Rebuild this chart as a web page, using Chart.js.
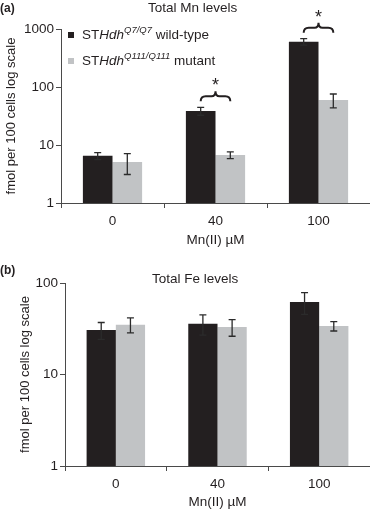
<!DOCTYPE html>
<html>
<head>
<meta charset="utf-8">
<script src="https://cdn.jsdelivr.net/npm/chart.js@4.4.1/dist/chart.umd.min.js"></script>
<style>
  body { margin: 0; background: #fff; }
  #wrap { position: relative; width: 370px; height: 512px; overflow: hidden; font-family: "Liberation Sans", Arial, sans-serif; color: #231f20; }
  canvas { position: absolute; left: 0; }
  .lbl { position: absolute; white-space: nowrap; line-height: 16px; }
  .panel { font-weight: bold; font-size: 12px; left: 0; }
  .ttl { font-size: 13.5px; }
  .leg { font-size: 13.5px; left: 82px; }
  .sw { position: absolute; left: -14px; top: 5px; width: 6px; height: 6px; }
  .leg sup { font-size: 9.5px; font-style: italic; vertical-align: baseline; position: relative; top: -6px; }
</style>
</head>
<body>
<div id="wrap">
  <canvas id="chartA" width="370" height="250" style="top:0"></canvas>
  <canvas id="chartB" width="370" height="262" style="top:250px"></canvas>
  <div class="lbl panel" style="top:0">(a)</div>
  <div class="lbl ttl" style="top:0; left:148px">Total Mn levels</div>
  <div class="lbl leg" style="top:27px"><span class="sw" style="background:#231f20"></span>ST<i>Hdh</i><sup>Q7/Q7</sup> wild-type</div>
  <div class="lbl leg" style="top:53px"><span class="sw" style="background:#c1c3c5"></span>ST<i>Hdh</i><sup>Q111/Q111</sup> mutant</div>
  <div class="lbl panel" style="top:262px">(b)</div>
  <div class="lbl ttl" style="top:271px; left:152px">Total Fe levels</div>
</div>
<script>
// categories / series
const doses = ['0', '40', '100'];
const seriesNames = ['STHdh Q7/Q7 wild-type', 'STHdh Q111/Q111 mutant'];
const yTitle = 'fmol per 100 cells log scale';

// (a) total Mn
const mnWild = [6.5, 38.6, 604];
const mnWildErr = [0.9, 6, 76];
const mnMutant = [5.1, 6.7, 59.7];
const mnMutantErr = [2.0, 0.9, 16];
const mnSignificant = [1, 2]; // dose index with *
const mnTicks = [1, 10, 100, 1000];

// (b) total Fe
const feWild = [30.6, 35.9, 62];
const feWildErr = [6.4, 9, 16.5];
const feMutant = [35, 33, 33.9];
const feMutantErr = [6.5, 6.8, 4];
const feSignificant = [];
const feTicks = [1, 10, 100];

const textColor = '#231f20';
const axisColor = '#4a4a4a';
const barColors = ['#231f20', '#c1c3c5'];
const fontFamily = '"Liberation Sans", Arial, sans-serif';

const errorBars = {
	id: 'errorBars',
	afterDatasetsDraw(chart, args, opts) {
		const ctx = chart.ctx;
		const y = chart.scales.y;
		ctx.save();
		ctx.strokeStyle = '#2b2b2b';
		ctx.lineWidth = 1.3;
		chart.data.datasets.forEach((ds, i) => {
			const meta = chart.getDatasetMeta(i);
			meta.data.forEach((bar, j) => {
				const v = ds.data[j], e = ds.errors[j];
				const top = y.getPixelForValue(v + e);
				const bot = y.getPixelForValue(v - e);
				ctx.beginPath();
				ctx.moveTo(bar.x, top); ctx.lineTo(bar.x, bot);
				ctx.moveTo(bar.x - 3.5, top); ctx.lineTo(bar.x + 3.5, top);
				ctx.moveTo(bar.x - 3.5, bot); ctx.lineTo(bar.x + 3.5, bot);
				ctx.stroke();
			});
		});
		// significance braces
		(opts.groups || []).forEach(j => {
			const b0 = chart.getDatasetMeta(0).data[j];
			const b1 = chart.getDatasetMeta(1).data[j];
			let hi = 0;
			chart.data.datasets.forEach(ds => { hi = Math.max(hi, ds.data[j] + ds.errors[j]); });
			const y0 = y.getPixelForValue(hi) - 6;
			const x0 = b0.x, x1 = b1.x, xm = (x0 + x1) / 2;
			ctx.strokeStyle = textColor;
			ctx.lineWidth = 2;
			ctx.beginPath();
			ctx.moveTo(x0, y0);
			ctx.quadraticCurveTo(x0, y0 - 5, x0 + 5, y0 - 5);
			ctx.lineTo(xm - 4, y0 - 5);
			ctx.quadraticCurveTo(xm, y0 - 5, xm, y0 - 10);
			ctx.quadraticCurveTo(xm, y0 - 5, xm + 4, y0 - 5);
			ctx.lineTo(x1 - 5, y0 - 5);
			ctx.quadraticCurveTo(x1, y0 - 5, x1, y0);
			ctx.stroke();
			ctx.fillStyle = textColor;
			ctx.font = '18px ' + fontFamily;
			ctx.textAlign = 'center';
			ctx.textBaseline = 'middle';
			ctx.fillText('*', xm, y0 - 15);
		});
		// rotated y axis title, centred on the plot area
		const area = chart.chartArea;
		ctx.translate(opts.titleX, (area.top + area.bottom) / 2);
		ctx.rotate(-Math.PI / 2);
		ctx.fillStyle = textColor;
		ctx.font = '13px ' + fontFamily;
		ctx.textAlign = 'center';
		ctx.textBaseline = 'middle';
		ctx.fillText(yTitle, 0, 0);
		ctx.restore();
	}
};

function makeChart(id, wild, wildErr, mutant, mutantErr, ticks, groups, geo) {
	const ctx = document.getElementById(id).getContext('2d');
	return new Chart(ctx, {
		type: 'bar',
		data: {
			labels: doses,
			datasets: [
				{ label: seriesNames[0], data: wild, errors: wildErr, backgroundColor: barColors[0] },
				{ label: seriesNames[1], data: mutant, errors: mutantErr, backgroundColor: barColors[1] },
			],
		},
		options: {
			responsive: false,
			animation: false,
			events: [],
			categoryPercentage: 0.575,
			barPercentage: 1.0,
			layout: { padding: { top: geo.top, left: 0, right: 0, bottom: 0 } },
			plugins: {
				legend: { display: false },
				tooltip: { enabled: false },
				errorBars: { groups: groups, titleX: geo.tx },
			},
			scales: {
				x: {
					offset: true,
					grid: { offset: true, drawOnChartArea: false, drawTicks: true, tickLength: 5, color: axisColor },
					border: { color: axisColor, width: 1 },
					ticks: { color: textColor, font: { family: fontFamily, size: 13.5 }, padding: 5, maxRotation: 0 },
					title: { display: true, text: 'Mn(II) \u00b5M', color: textColor, font: { family: fontFamily, size: 13.5 }, padding: { top: 0, bottom: 2 } },
					afterFit: s => { s.height = geo.xh; },
				},
				y: {
					type: 'logarithmic',
					min: ticks[0],
					max: ticks[ticks.length - 1],
					afterBuildTicks: s => { s.ticks = ticks.map(v => ({ value: v })); },
					grid: { drawOnChartArea: false, drawTicks: true, tickLength: 5, color: axisColor },
					border: { color: axisColor, width: 1 },
					ticks: { color: textColor, font: { family: fontFamily, size: 13.5 }, padding: 2, callback: v => String(v) },
					afterFit: s => { s.width = geo.yw; },
				},
			},
		},
		plugins: [errorBars],
	});
}

makeChart('chartA', mnWild, mnWildErr, mnMutant, mnMutantErr, mnTicks, mnSignificant, { top: 29, xh: 47, yw: 61, tx: 11 });
makeChart('chartB', feWild, feWildErr, feMutant, feMutantErr, feTicks, feSignificant, { top: 33, xh: 46, yw: 65, tx: 25 });
</script>
</body>
</html>
